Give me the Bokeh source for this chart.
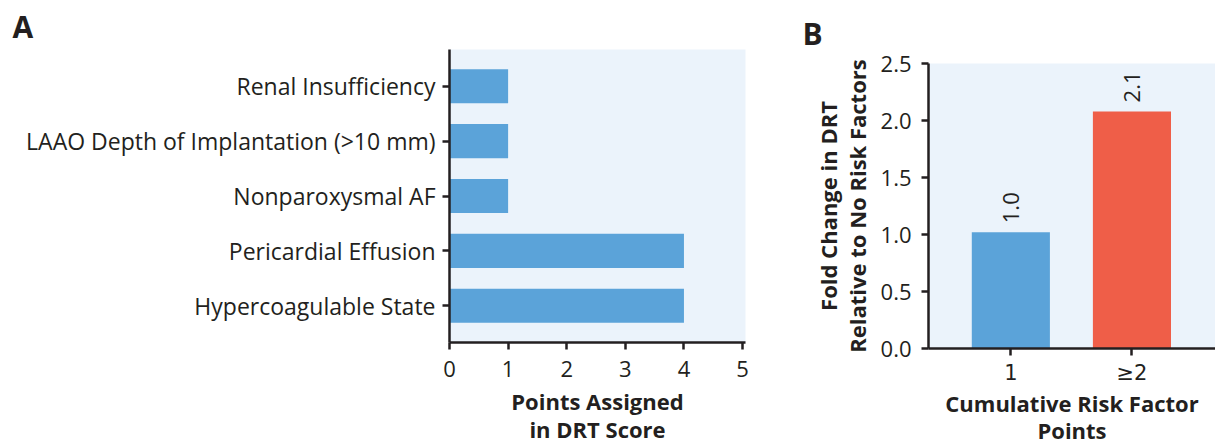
from math import pi
from bokeh.plotting import figure
from bokeh.models import FixedTicker, ColumnDataSource, Range1d
from bokeh.layouts import row, column
from bokeh.embed import file_html
from bokeh.resources import INLINE
from bokeh.core.properties import value

# ---------------- data ----------------
risk_factors = ["Hypercoagulable State", "Pericardial Effusion", "Nonparoxysmal AF",
                "LAAO Depth of Implantation (>10 mm)", "Renal Insufficiency"]
points_assigned = [4, 4, 1, 1, 1]
a_ticks = [0, 1, 2, 3, 4, 5]

cum_points = ["1", "\u22652"]
fold_change = [1.02, 2.08]
fold_labels = ["1.0", "2.1"]
b_colors = ["#5BA3D9", "#EF5E48"]
b_ticks = [0.0, 0.5, 1.0, 1.5, 2.0, 2.5]

FONT = "Open Sans"
TXT = "#231F20"
BG = "#EBF3FB"
BLUE = "#5BA3D9"

H = 447


def style(p, size="22px"):
    for ax in (p.xaxis[0], p.yaxis[0]):
        ax.axis_line_color = TXT
        ax.axis_line_width = 2.5
        ax.major_tick_line_color = TXT
        ax.major_tick_line_width = 2.5
        ax.major_tick_in = 0
        ax.major_tick_out = 7
        ax.minor_tick_line_color = None
        ax.major_label_text_font = FONT
        ax.major_label_text_font_size = size
        ax.major_label_text_color = TXT
        ax.axis_label_text_font = FONT
        ax.axis_label_text_font_style = "bold"
        ax.axis_label_text_font_size = "22px"
        ax.axis_label_text_color = TXT
        ax.axis_label_text_line_height = 0.95
    p.xgrid.grid_line_color = None
    p.ygrid.grid_line_color = None
    p.outline_line_color = None
    p.background_fill_color = BG
    p.border_fill_color = "white"
    p.title.text_font = FONT
    p.title.text_font_style = "bold"
    p.title.text_font_size = "30px"
    p.title.text_color = TXT
    p.title.text_line_height = 0.9
    p.title.align = "left"


# ---------------- panel A ----------------
WA = 775
A_L, A_R, A_T, A_B = 449, 745, 48, 342
ya = list(range(1, len(risk_factors) + 1))
pa = figure(width=WA, height=H, output_backend="svg", toolbar_location=None,
            x_range=Range1d(0, 5.05), y_range=Range1d(0.33, 5.67),
            title="A",
            min_border_left=A_L, min_border_right=WA - A_R,
            min_border_top=A_T, min_border_bottom=H - A_B)
src_a = ColumnDataSource(dict(y=ya, v=points_assigned, name=risk_factors))
pa.hbar(y="y", right="v", left=0, height=0.62, source=src_a,
        fill_color=BLUE, line_color=None)
style(pa)
pa.title.offset = 12 - A_L
pa.title.standoff = 6
pa.yaxis[0].ticker = FixedTicker(ticks=ya)
pa.yaxis[0].major_label_overrides = {y: n for y, n in zip(ya, risk_factors)}
pa.yaxis[0].major_label_text_font_size = "23px"
pa.yaxis[0].major_label_standoff = 7
pa.xaxis[0].ticker = FixedTicker(ticks=a_ticks)
pa.xaxis[0].major_label_standoff = 11
pa.xaxis[0].axis_label = "Points Assigned\nin DRT Score"
pa.xaxis[0].axis_label_standoff = 6

# ---------------- panel B ----------------
WB = 1215 - WA
B_L, B_T, B_B = 928 - WA, 63, 348
xb = list(range(1, len(cum_points) + 1))
pb = figure(width=WB, height=H, output_backend="svg", toolbar_location=None,
            x_range=Range1d(0.32, 2.69), y_range=Range1d(0, 2.5),
            title="B",
            min_border_left=B_L, min_border_right=0,
            min_border_top=B_T, min_border_bottom=H - B_B)
src_b = ColumnDataSource(dict(x=xb, v=fold_change, c=b_colors, lab=fold_labels))
pb.vbar(x="x", top="v", width=0.645, bottom=0, source=src_b,
        fill_color="c", line_color=None)
pb.text(x="x", y="v", text="lab", source=src_b, angle=pi / 2, y_offset=-9,
        text_font=value(FONT), text_font_size="22px", text_color=TXT,
        text_align="left", text_baseline="middle")
style(pb)
pb.title.offset = 802 - 928
pb.title.standoff = 20
pb.xaxis[0].ticker = FixedTicker(ticks=xb)
pb.xaxis[0].major_label_overrides = {x: n for x, n in zip(xb, cum_points)}
pb.xaxis[0].major_label_text_font = "DejaVu Sans"
pb.xaxis[0].major_label_text_font_size = "21px"
pb.xaxis[0].major_label_standoff = 5
pb.xaxis[0].axis_label = "Cumulative Risk Factor\nPoints"
pb.xaxis[0].axis_label_standoff = 0
pb.xaxis[0].axis_label_text_line_height = 0.9
pb.yaxis[0].ticker = FixedTicker(ticks=b_ticks)
pb.yaxis[0].major_label_overrides = {t: f"{t:.1f}" for t in b_ticks}
pb.yaxis[0].major_label_standoff = 10
pb.yaxis[0].axis_label = "Fold Change in DRT\nRelative to No Risk Factors"
pb.yaxis[0].axis_label_standoff = 6

layout = row(column(pa), column(pb))
open("out.html", "w").write(file_html(layout, INLINE))
